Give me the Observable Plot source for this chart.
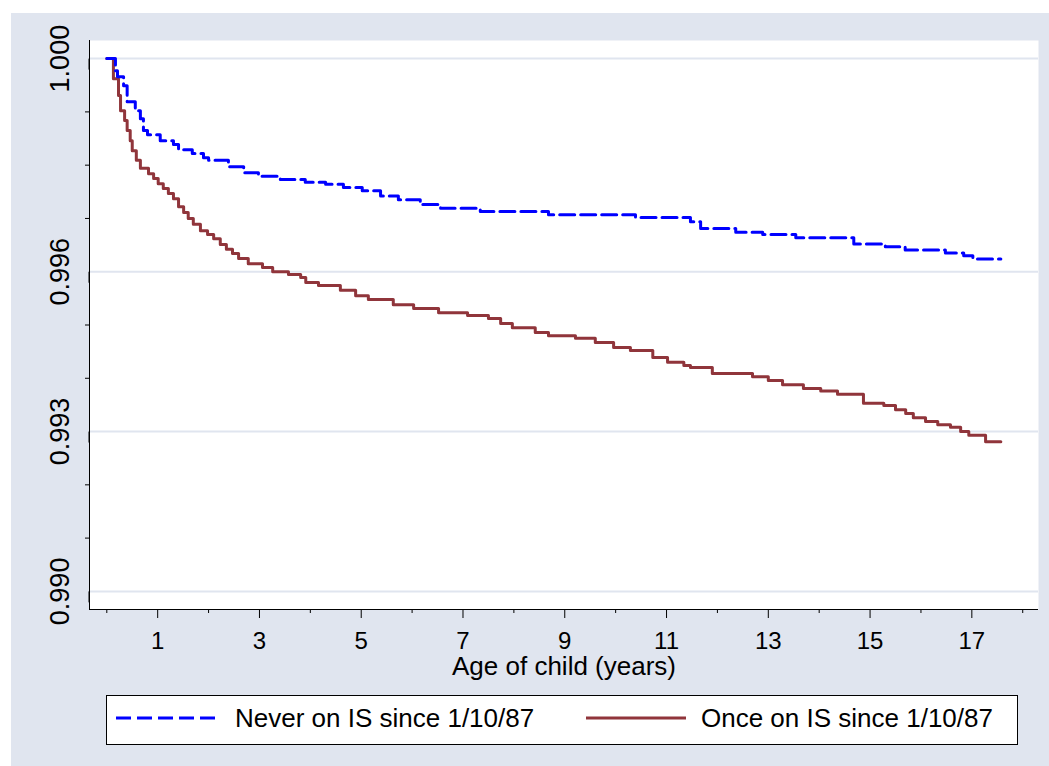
<!DOCTYPE html>
<html>
<head>
<meta charset="utf-8">
<script src="https://cdn.jsdelivr.net/npm/d3@7"></script>
<script src="https://cdn.jsdelivr.net/npm/@observablehq/plot@0.6"></script>
<style>
  html, body { margin: 0; padding: 0; background: #ffffff; }
  #wrap { position: relative; width: 1049px; height: 766px; overflow: hidden; font-family: "Liberation Sans", Arial, sans-serif; }
  #bg { position: absolute; left: 11px; top: 13px; right: 0; bottom: 0; background: #e0e5ef; }
  #chart { position: absolute; left: 0; top: 0; }
  #legend { position: absolute; left: 106px; top: 695px; width: 910px; height: 48px; border: 1px solid #000; background: #fff; }
  #legend svg { display: block; }
</style>
</head>
<body>
<div id="wrap">
  <div id="bg"></div>
  <div id="chart"></div>
  <div id="legend"></div>
</div>
<script>
// ---- data ----
const seriesNames = ["Never on IS since 1/10/87", "Once on IS since 1/10/87"];
const seriesColors = ["#0000ff", "#90353b"];

const neverTime = [0, 0.17, 0.21, 0.33, 0.40, 0.56, 0.66, 0.72, 0.80, 1.05, 1.31, 1.41, 1.68, 1.90, 2.00, 2.39, 2.69, 2.98, 3.41, 3.90, 4.30, 4.65, 5.02, 5.38, 5.73, 6.16, 6.56, 7.34, 8.68, 10.39, 11.47, 11.67, 12.36, 12.89, 13.54, 14.68, 15.30, 15.69, 16.48, 16.84, 17.02, 17.57];
const neverSurv = [1.0, 0.99977, 0.99966, 0.99949, 0.99919, 0.99902, 0.99887, 0.99865, 0.99857, 0.99846, 0.99839, 0.99829, 0.99822, 0.99814, 0.99809, 0.99797, 0.99786, 0.99779, 0.99773, 0.99768, 0.99764, 0.99758, 0.99752, 0.99742, 0.99735, 0.99726, 0.99719, 0.99713, 0.99707, 0.99702, 0.99694, 0.99681, 0.99674, 0.99670, 0.99664, 0.99652, 0.99647, 0.99641, 0.99635, 0.99630, 0.99624, 0.99624];

const onceTime = [0, 0.13, 0.23, 0.27, 0.35, 0.40, 0.46, 0.50, 0.58, 0.66,
  0.82, 0.92, 1.01, 1.11, 1.21, 1.31, 1.41, 1.51, 1.60, 1.70,
  1.84, 1.98, 2.10, 2.23, 2.35, 2.47, 2.59, 2.78, 3.06, 3.26,
  3.57, 3.81, 3.91, 4.16, 4.59, 4.89, 5.14, 5.63, 6.03, 6.52,
  7.09, 7.50, 7.74, 7.97, 8.42, 8.68, 9.21, 9.60, 9.96, 10.29,
  10.73, 11.02, 11.34, 11.47, 11.90, 12.69, 13.00, 13.28, 13.69, 14.03, 14.36,
  14.87, 15.27, 15.50, 15.70, 15.85, 16.09, 16.33, 16.58, 16.78, 16.94,
  17.27, 17.57];
const onceSurv = [1.0, 0.99962, 0.99931, 0.99902, 0.99884, 0.99865, 0.99846, 0.99827, 0.99809, 0.99794,
  0.99784, 0.99775, 0.99765, 0.99756, 0.99747, 0.99737, 0.99722, 0.99711, 0.99700, 0.99689,
  0.99677, 0.99670, 0.99662, 0.99651, 0.99642, 0.99634, 0.99625, 0.99615, 0.99608, 0.99600,
  0.99595, 0.99589, 0.99580, 0.99574, 0.99565, 0.99555, 0.99548, 0.99538, 0.99531, 0.99523,
  0.99518, 0.99512, 0.99503, 0.99495, 0.99486, 0.99480, 0.99475, 0.99467, 0.99458, 0.99452,
  0.99439, 0.99430, 0.99424, 0.99420, 0.99409, 0.99403, 0.99396, 0.99388, 0.99381, 0.99376, 0.99370,
  0.99353, 0.99349, 0.99341, 0.99334, 0.99326, 0.99319, 0.99313, 0.99308, 0.99300, 0.99293,
  0.99281, 0.99281];

const xMajorTicks = [1, 3, 5, 7, 9, 11, 13, 15, 17];
const xMinorTicks = [0, 2, 4, 6, 8, 10, 12, 14, 16, 18];
const yMajorTicks = [0.990, 0.993, 0.996, 1.000];
const yTickLabels = ["0.990", "0.993", "0.996", "1.000"];
const yMinorTicks = [0.991, 0.992, 0.994, 0.995, 0.997, 0.998, 0.999];
const xDomain = [-0.34, 18.31];
const yDomain = [0.98966, 1.00034];
const xTitle = "Age of child (years)";

// ---- build ----
const neverData = neverTime.map((t, i) => ({t, s: neverSurv[i]}));
const onceData = onceTime.map((t, i) => ({t, s: onceSurv[i]}));
const gridColor = "#e0e5ef";
const font = "'Liberation Sans', Arial, sans-serif";

const chart = Plot.plot({
  width: 1049,
  height: 680,
  marginLeft: 89,
  marginRight: 11,
  marginTop: 40,
  marginBottom: 71,
  style: {background: "transparent", fontFamily: font, color: "#000"},
  x: {domain: xDomain},
  y: {domain: yDomain},
  marks: [
    Plot.frame({fill: "white", stroke: "none"}),
    Plot.gridY(yMajorTicks, {stroke: gridColor, strokeOpacity: 1, strokeWidth: 2}),
    Plot.line(onceData, {x: "t", y: "s", curve: "step-after", stroke: seriesColors[1], strokeWidth: 3}),
    Plot.line(neverData, {x: "t", y: "s", curve: "step-after", stroke: seriesColors[0], strokeWidth: 3, strokeDasharray: "15,6"}),
    Plot.ruleX([xDomain[0]], {stroke: "#000", strokeWidth: 1}),
    Plot.ruleY([yDomain[0]], {stroke: "#000", strokeWidth: 1}),
    Plot.axisY(yMajorTicks, {
      tickSize: 11, tickPadding: 10, rotate: -90, textAnchor: "middle", lineAnchor: "bottom",
      fontSize: 27, tickFormat: d => yTickLabels[yMajorTicks.indexOf(d)], label: null
    }),
    Plot.axisY(yMinorTicks, {tickSize: 4, tickFormat: () => "", label: null}),
    Plot.axisX(xMajorTicks, {tickSize: 9, tickPadding: 13, fontSize: 24, label: null}),
    Plot.axisX(xMinorTicks, {tickSize: 4, tickFormat: () => "", label: null}),
    Plot.text([xTitle], {frameAnchor: "bottom", dy: 47, lineAnchor: "top", fontSize: 26, fill: "#000"})
  ]
});
document.getElementById("chart").appendChild(chart);

// ---- legend ----
const lw = 910, lh = 48;
const lsvg = d3.select("#legend").append("svg").attr("width", lw).attr("height", lh);
const keys = [
  {x1: 9, x2: 112, tx: 128, dash: "15,6"},
  {x1: 479, x2: 579, tx: 594, dash: null}
];
keys.forEach((k, i) => {
  const ln = lsvg.append("line").attr("x1", k.x1).attr("x2", k.x2).attr("y1", 22).attr("y2", 22)
    .attr("stroke", seriesColors[i]).attr("stroke-width", 3);
  if (k.dash) ln.attr("stroke-dasharray", k.dash);
  lsvg.append("text").attr("x", k.tx).attr("y", 22).attr("dy", "0.35em")
    .attr("font-family", font).attr("font-size", 26).attr("fill", "#000").text(seriesNames[i]);
});
</script>
</body>
</html>
